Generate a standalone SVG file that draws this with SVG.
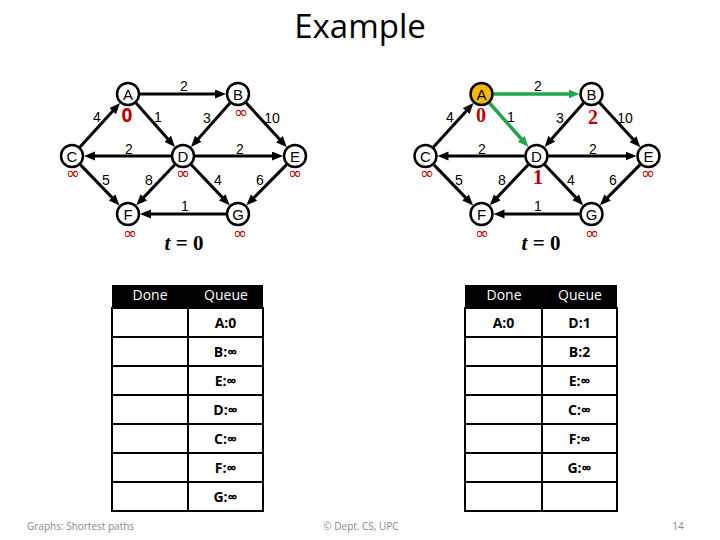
<svg xmlns="http://www.w3.org/2000/svg" width="720" height="540" viewBox="0 0 720 540">
<defs>
<marker id="ah" markerUnits="userSpaceOnUse" markerWidth="12" markerHeight="10" refX="5" refY="4.5" orient="auto"><path d="M0,0 L11,4.5 L0,9 z" fill="#000"/></marker>
<marker id="ahg" markerUnits="userSpaceOnUse" markerWidth="12" markerHeight="10" refX="5" refY="4.5" orient="auto"><path d="M0,0 L11,4.5 L0,9 z" fill="#22A64A"/></marker>
<style>
.e{stroke:#000;stroke-width:3;fill:none;marker-end:url(#ah)}
.g{stroke:#22A64A;stroke-width:3.5;fill:none;marker-end:url(#ahg)}
.n circle{fill:#fff;stroke:#000;stroke-width:2.5}
.n text{font-family:"Liberation Sans",Arial,sans-serif;font-size:15px;text-anchor:middle}
.w{font-family:"Liberation Sans",Arial,sans-serif;font-size:14px;text-anchor:middle}
.n text.inf{font-family:"DejaVu Sans",sans-serif;font-size:17px;fill:#C00000;text-anchor:middle}
.n text.d{font-family:"Liberation Serif","Times New Roman",serif;font-size:20px;font-weight:bold;fill:#C00000;text-anchor:middle}
.n text.z{font-family:"Open Sans","Liberation Sans",sans-serif;font-size:19px;font-weight:bold;fill:#C00000}
.t{font-family:"Liberation Serif","Times New Roman",serif;font-size:21px;font-weight:bold;text-anchor:middle}
.hd{fill:#000}
.hdt{font-family:"Open Sans","Liberation Sans",sans-serif;font-size:14px;fill:#fff;text-anchor:middle}
.cell{fill:none;stroke:#000;stroke-width:2}
.ln{stroke:#000;stroke-width:2}
.q{font-family:"Open Sans","Liberation Sans",sans-serif;font-size:14px;font-weight:bold;text-anchor:middle}
.ft{font-family:"Open Sans","Liberation Sans",sans-serif;font-size:10px;fill:#888}
</style>
</defs>
<rect width="720" height="540" fill="#fff"/>
<text x="360" y="38" font-family="Open Sans, Liberation Sans, sans-serif" font-size="33" text-anchor="middle">Example</text>

<g id="connectors-left">
<line class="e" x1="140" y1="94" x2="220" y2="94"/>
<line class="e" x1="80" y1="147.1" x2="116" y2="107.4"/>
<line class="e" x1="136" y1="103" x2="171" y2="142.5"/>
<line class="e" x1="230" y1="103" x2="195" y2="142.5"/>
<line class="e" x1="246.1" y1="102.8" x2="282.8" y2="142.8"/>
<line class="e" x1="171" y1="156" x2="90" y2="156"/>
<line class="e" x1="195" y1="156" x2="277" y2="156"/>
<line class="e" x1="80.3" y1="164.6" x2="115.5" y2="201.1"/>
<line class="e" x1="174.7" y1="164.7" x2="140.4" y2="200.9"/>
<line class="e" x1="191.3" y1="164.7" x2="225.6" y2="200.9"/>
<line class="e" x1="286.6" y1="164.6" x2="250.6" y2="201.1"/>
<line class="e" x1="226" y1="214" x2="146" y2="214"/>
<text class="w" x="184" y="91">2</text>
<text class="w" x="97" y="122">4</text>
<text class="w" x="158" y="122">1</text>
<text class="w" x="207" y="123">3</text>
<text class="w" x="272" y="123">10</text>
<text class="w" x="129" y="154">2</text>
<text class="w" x="240" y="154">2</text>
<text class="w" x="106" y="185">5</text>
<text class="w" x="149" y="185">8</text>
<text class="w" x="218" y="185">4</text>
<text class="w" x="260" y="185">6</text>
<text class="w" x="185" y="211">1</text>
</g>

<g id="L-A" class="n"><circle cx="128" cy="94" r="11"/><text x="128" y="99.5">A</text><text class="z" x="127" y="122">0</text></g>
<g id="L-B" class="n"><circle cx="238" cy="94" r="11"/><text x="238" y="99.5">B</text><text class="inf" x="241" y="118">∞</text></g>
<g id="L-C" class="n"><circle cx="72" cy="156" r="11"/><text x="72" y="161.5">C</text><text class="inf" x="73" y="179">∞</text></g>
<g id="L-D" class="n"><circle cx="183" cy="156" r="11"/><text x="183" y="161.5">D</text><text class="inf" x="183" y="179">∞</text></g>
<g id="L-E" class="n"><circle cx="295" cy="156" r="11"/><text x="295" y="161.5">E</text><text class="inf" x="295" y="179">∞</text></g>
<g id="L-F" class="n"><circle cx="128" cy="214" r="11"/><text x="128" y="219.5">F</text><text class="inf" x="130" y="239">∞</text></g>
<g id="L-G" class="n"><circle cx="238" cy="214" r="11"/><text x="238" y="219.5">G</text><text class="inf" x="240" y="239">∞</text></g>
<text class="t" x="184" y="250"><tspan font-style="italic">t</tspan> = 0</text>

<g id="connectors-right">
<line class="g" x1="493.5" y1="94" x2="573.5" y2="94"/>
<line class="e" x1="433.5" y1="147.1" x2="469.5" y2="107.4"/>
<line class="g" x1="489.5" y1="103" x2="524.5" y2="142.5"/>
<line class="e" x1="583.5" y1="103" x2="548.5" y2="142.5"/>
<line class="e" x1="599.6" y1="102.8" x2="636.3" y2="142.8"/>
<line class="e" x1="524.5" y1="156" x2="443.5" y2="156"/>
<line class="e" x1="548.5" y1="156" x2="630.5" y2="156"/>
<line class="e" x1="433.8" y1="164.6" x2="469" y2="201.1"/>
<line class="e" x1="528.2" y1="164.7" x2="493.9" y2="200.9"/>
<line class="e" x1="544.8" y1="164.7" x2="579.1" y2="200.9"/>
<line class="e" x1="640.1" y1="164.6" x2="604.1" y2="201.1"/>
<line class="e" x1="579.5" y1="214" x2="499.5" y2="214"/>
<text class="w" x="538" y="91">2</text>
<text class="w" x="450" y="122">4</text>
<text class="w" x="511" y="122">1</text>
<text class="w" x="560" y="123">3</text>
<text class="w" x="625" y="123">10</text>
<text class="w" x="482" y="154">2</text>
<text class="w" x="593" y="154">2</text>
<text class="w" x="459" y="185">5</text>
<text class="w" x="502" y="185">8</text>
<text class="w" x="571" y="185">4</text>
<text class="w" x="613" y="185">6</text>
<text class="w" x="538" y="211">1</text>
</g>

<g id="R-A" class="n"><circle cx="481.5" cy="94" r="11" style="fill:#F5B800"/><text x="481.5" y="99.5">A</text><text class="d" x="481" y="122">0</text></g>
<g id="R-B" class="n"><circle cx="591.5" cy="94" r="11"/><text x="591.5" y="99.5">B</text><text class="d" x="593" y="124">2</text></g>
<g id="R-C" class="n"><circle cx="425.5" cy="156" r="11"/><text x="425.5" y="161.5">C</text><text class="inf" x="427" y="179">∞</text></g>
<g id="R-D" class="n"><circle cx="536.5" cy="156" r="11"/><text x="536.5" y="161.5">D</text><text class="d" x="538" y="184">1</text></g>
<g id="R-E" class="n"><circle cx="648.5" cy="156" r="11"/><text x="648.5" y="161.5">E</text><text class="inf" x="648" y="179">∞</text></g>
<g id="R-F" class="n"><circle cx="481.5" cy="214" r="11"/><text x="481.5" y="219.5">F</text><text class="inf" x="482" y="239">∞</text></g>
<g id="R-G" class="n"><circle cx="591.5" cy="214" r="11"/><text x="591.5" y="219.5">G</text><text class="inf" x="592" y="239">∞</text></g>
<text class="t" x="541" y="250"><tspan font-style="italic">t</tspan> = 0</text>

<g id="table-left">
<rect class="hd" x="112" y="285" width="151" height="23"/>
<text class="hdt" x="150" y="300">Done</text>
<text class="hdt" x="226" y="300">Queue</text>
<rect class="cell" x="112" y="308" width="151" height="203"/>
<line class="ln" x1="188" y1="308" x2="188" y2="511"/>
<line class="ln" x1="112" y1="337" x2="263" y2="337"/>
<line class="ln" x1="112" y1="366" x2="263" y2="366"/>
<line class="ln" x1="112" y1="395" x2="263" y2="395"/>
<line class="ln" x1="112" y1="424" x2="263" y2="424"/>
<line class="ln" x1="112" y1="453" x2="263" y2="453"/>
<line class="ln" x1="112" y1="482" x2="263" y2="482"/>
<text class="q" x="225.5" y="328">A:0</text>
<text class="q" x="225.5" y="357">B:∞</text>
<text class="q" x="225.5" y="386">E:∞</text>
<text class="q" x="225.5" y="415">D:∞</text>
<text class="q" x="225.5" y="444">C:∞</text>
<text class="q" x="225.5" y="473">F:∞</text>
<text class="q" x="225.5" y="502">G:∞</text>
</g>

<g id="table-right">
<rect class="hd" x="465" y="285" width="152" height="23"/>
<text class="hdt" x="504" y="300">Done</text>
<text class="hdt" x="580" y="300">Queue</text>
<rect class="cell" x="465" y="308" width="152" height="203"/>
<line class="ln" x1="542" y1="308" x2="542" y2="511"/>
<line class="ln" x1="465" y1="337" x2="617" y2="337"/>
<line class="ln" x1="465" y1="366" x2="617" y2="366"/>
<line class="ln" x1="465" y1="395" x2="617" y2="395"/>
<line class="ln" x1="465" y1="424" x2="617" y2="424"/>
<line class="ln" x1="465" y1="453" x2="617" y2="453"/>
<line class="ln" x1="465" y1="482" x2="617" y2="482"/>
<text class="q" x="503.5" y="328">A:0</text>
<text class="q" x="579.5" y="328">D:1</text>
<text class="q" x="579.5" y="357">B:2</text>
<text class="q" x="579.5" y="386">E:∞</text>
<text class="q" x="579.5" y="415">C:∞</text>
<text class="q" x="579.5" y="444">F:∞</text>
<text class="q" x="579.5" y="473">G:∞</text>
</g>

<text class="ft" x="27" y="530">Graphs: Shortest paths</text>
<text class="ft" x="361" y="530" text-anchor="middle">© Dept. CS, UPC</text>
<text class="ft" x="678" y="530" text-anchor="middle">14</text>
</svg>
